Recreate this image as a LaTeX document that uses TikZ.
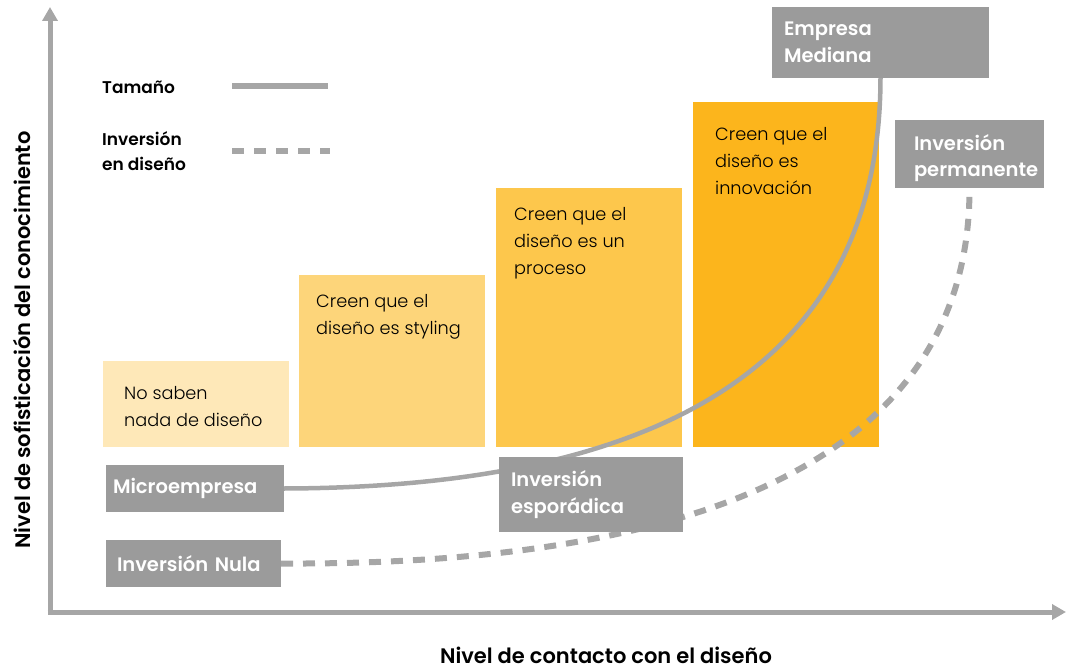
\documentclass[tikz,border=0pt]{standalone}
\usepackage{fontspec}
\setmainfont{Poppins}[BoldFont={Poppins SemiBold}]
\newfontfamily\lightfont{Poppins Light}
\usetikzlibrary{arrows.meta}
\pgfdeclarelayer{fg}
\pgfsetlayers{main,fg}

\definecolor{axisgray}{HTML}{A6A6A6}
\definecolor{boxgray}{HTML}{9B9B9B}
\definecolor{lvlA}{HTML}{FEE8B8}
\definecolor{lvlB}{HTML}{FDD57A}
\definecolor{lvlC}{HTML}{FDC74C}
\definecolor{lvlD}{HTML}{FCB51C}

\tikzset{
  axisline/.style={draw=axisgray, line width=5pt, -{Triangle[length=14pt,width=15pt]}},
  levelbox/.style={anchor=north west, inner sep=0pt, outer sep=0pt, draw=none},
  leveltext/.style={anchor=north west, align=left, inner sep=0pt,
    font=\lightfont\fontsize{17.7}{27}\selectfont, text=black},
  graybox/.style={anchor=north west, fill=boxgray, text=white, align=left,
    inner xsep=7pt, inner ysep=0pt, outer sep=0pt,
    font=\fontsize{19.5}{26.5}\selectfont\bfseries},
  sizecurve/.style={draw=axisgray, line width=4.5pt},
  investcurve/.style={draw=axisgray, line width=6pt, dash pattern=on 12pt off 10pt},
  legendtext/.style={anchor=west, align=left, inner sep=0pt,
    font=\fontsize{17}{25.5}\selectfont\bfseries},
  axislabel/.style={font=\fontsize{21}{24}\selectfont\bfseries, inner sep=0pt},
}

\begin{document}
\begin{tikzpicture}[x=1pt, y=-1pt]
\useasboundingbox (0,0) rectangle (1069,669);

% axes
\coordinate (origin) at (50,612);
\coordinate (ytip) at (50,7);
\coordinate (xtip) at (1066,612);
\draw[axisline] (50,614.5) -- (ytip);
\draw[axisline] (47.5,612) -- (xtip);
\node[axislabel, rotate=90] (ylabel) at (22,340) {Nivel de sofisticación del conocimiento};
\node[axislabel] (xlabel) at (606,655) {Nivel de contacto con el diseño};

% legend
\node[legendtext] (legsize) at (102,87) {Tamaño};
\node[legendtext] (leginv) at (102,151) {Inversión\\en diseño};
\coordinate (ls1) at (232,86);
\coordinate (ls2) at (328,86);
\coordinate (li1) at (232,151);
\coordinate (li2) at (330,151);
\draw[draw=axisgray, line width=6pt] (ls1) -- (ls2);
\draw[investcurve] (li1) -- (li2);

% knowledge levels
\node[levelbox, fill=lvlA, minimum width=186pt, minimum height=86pt] (lvl1) at (103,361) {};
\node[levelbox, fill=lvlB, minimum width=186pt, minimum height=172pt] (lvl2) at (299,275) {};
\node[levelbox, fill=lvlC, minimum width=186pt, minimum height=259pt] (lvl3) at (496,188) {};
\node[levelbox, fill=lvlD, minimum width=186pt, minimum height=345pt] (lvl4) at (693,102) {};
\node[leveltext] (t1) at (124,386) {No saben\\nada de diseño};
\node[leveltext] (t2) at (316,294) {Creen que el\\diseño es styling};
\node[leveltext] (t3) at (514,207) {Creen que el\\diseño es un\\proceso};
\node[leveltext] (t4) at (715,127) {Creen que el\\diseño es\\innovación};

% company size / investment boxes
\begin{pgfonlayer}{fg}
\node[graybox, minimum width=178pt, minimum height=47pt, text width=164pt] (micro) at (106,465) {Microempresa};
\node[graybox, minimum width=175pt, minimum height=47pt, text width=153pt, inner xsep=11pt] (nula) at (106,540) {Inversión Nula};
\node[graybox, minimum width=184pt, minimum height=75pt, text width=160pt, inner xsep=12pt] (espor) at (499,457) {Inversión\\esporádica};
\node[graybox, minimum width=217pt, minimum height=71pt, text width=193pt, inner xsep=12pt] (mediana) at (772,7) {Empresa\\Mediana};
\node[graybox, minimum width=149pt, minimum height=68pt, text width=111pt, inner xsep=19pt] (perm) at (895,120)
  {\raisebox{-4pt}[\height][\depth]{Inversión}\\\raisebox{-4pt}[\height][\depth]{permanente}};
\end{pgfonlayer}

% curves
\draw[sizecurve] (micro.east) .. controls (750,487) and (880,300) .. (mediana.south);
\draw[investcurve] (nula.east) .. controls (770,566) and (970,420) .. (perm.south);
\end{tikzpicture}
\end{document}
